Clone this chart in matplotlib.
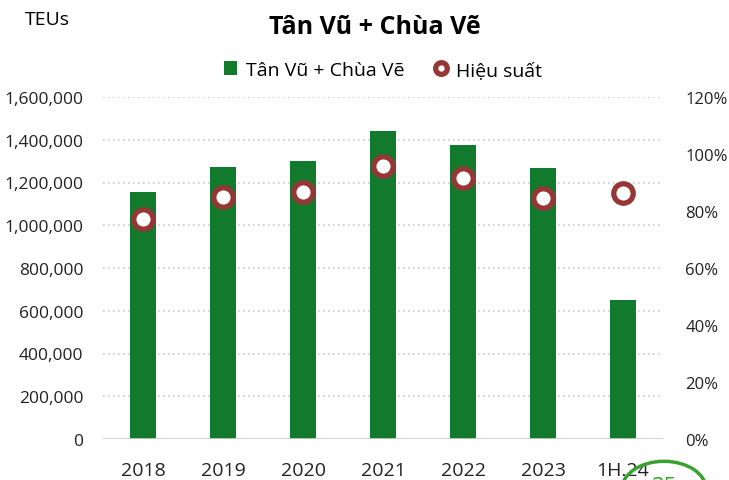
import matplotlib.pyplot as plt
from matplotlib.patches import Circle
from matplotlib.ticker import FuncFormatter, MultipleLocator

plt.rcParams['font.family'] = ['Open Sans', 'DejaVu Sans']

# --------------------------------------------------
# DATA
# --------------------------------------------------
years = ["2018", "2019", "2020", "2021", "2022", "2023", "1H.24"]
teus = [1155000, 1272000, 1300000, 1440000, 1375000, 1268000, 650000]
efficiency = [77.2, 84.9, 86.7, 95.8, 91.6, 84.6, 86.3]

BAR_COLOR = "#117A2D"
DOT_COLOR = "#953735"

fig = plt.figure(figsize=(7.29, 4.81), dpi=100)
ax = fig.add_axes([103 / 729, 1 - 440 / 481, 560 / 729, 342 / 481])
ax2 = ax.twinx()

x = range(len(years))
bars = ax.bar(x, teus, width=0.32, color=BAR_COLOR, zorder=3, label="Tân Vũ + Chùa Vẽ")
dots = ax2.plot(x, efficiency, linestyle="none", marker="o", markersize=14,
                markerfacecolor="white", markeredgecolor=DOT_COLOR,
                markeredgewidth=3.8, zorder=5, label="Hiệu suất")

ax.set_xlim(-0.5, len(years) - 0.5)
ax.set_ylim(0, 1600000)
ax2.set_ylim(0, 120)
ax.yaxis.set_major_locator(MultipleLocator(200000))
ax2.yaxis.set_major_locator(MultipleLocator(20))
ax.yaxis.set_major_formatter(FuncFormatter(lambda v, p: f"{int(v):,}"))
ax2.yaxis.set_major_formatter(FuncFormatter(lambda v, p: f"{int(v)}%"))

ax.grid(axis="y", linestyle=(0, (1, 2)), color="#C8C8C8", linewidth=1.2, zorder=0)
ax.axhline(0, color="#D0D0D0", linewidth=1.2, zorder=4)
ax.set_axisbelow(True)

for a in (ax, ax2):
    for s in a.spines.values():
        s.set_visible(False)
    a.tick_params(length=0, labelsize=12.5, colors="#222222")
ax.set_xticks(list(x))
ax.set_xticklabels(years)
ax.tick_params(axis="x", pad=16, labelsize=14)
ax.tick_params(axis="y", pad=14)
ax2.tick_params(axis="y", pad=16, labelsize=12)

# ax2 sits on top, keep the bars under the markers
ax2.set_zorder(ax.get_zorder() + 1)
ax2.patch.set_visible(False)

fig.text(25 / 729, 1 - 20 / 481, "TEUs", fontsize=14, va="center", ha="left")
fig.text(375 / 729, 1 - 27 / 481, "Tân Vũ + Chùa Vẽ", fontsize=18,
         fontweight="bold", va="center", ha="center")

fig.legend(handles=[bars, dots[0]], loc="center", bbox_to_anchor=(383 / 729, 1 - 71 / 481),
           ncol=2, frameon=False, fontsize=14, handlelength=0.7, handletextpad=0.45,
           columnspacing=1.5, markerscale=0.6)

# badge partly out of frame, bottom right
badge = Circle((664 / 729, 1 - 490 / 481), 42 / 729, transform=fig.transFigure,
               fill=False, edgecolor="#3BA22F", linewidth=2.5, clip_on=False)
fig.patches.append(badge)
fig.text(664 / 729, 1 - 488 / 481, "35", fontsize=16, color="#3BA22F",
         ha="center", va="center")

fig.savefig("out.png", dpi=100)
